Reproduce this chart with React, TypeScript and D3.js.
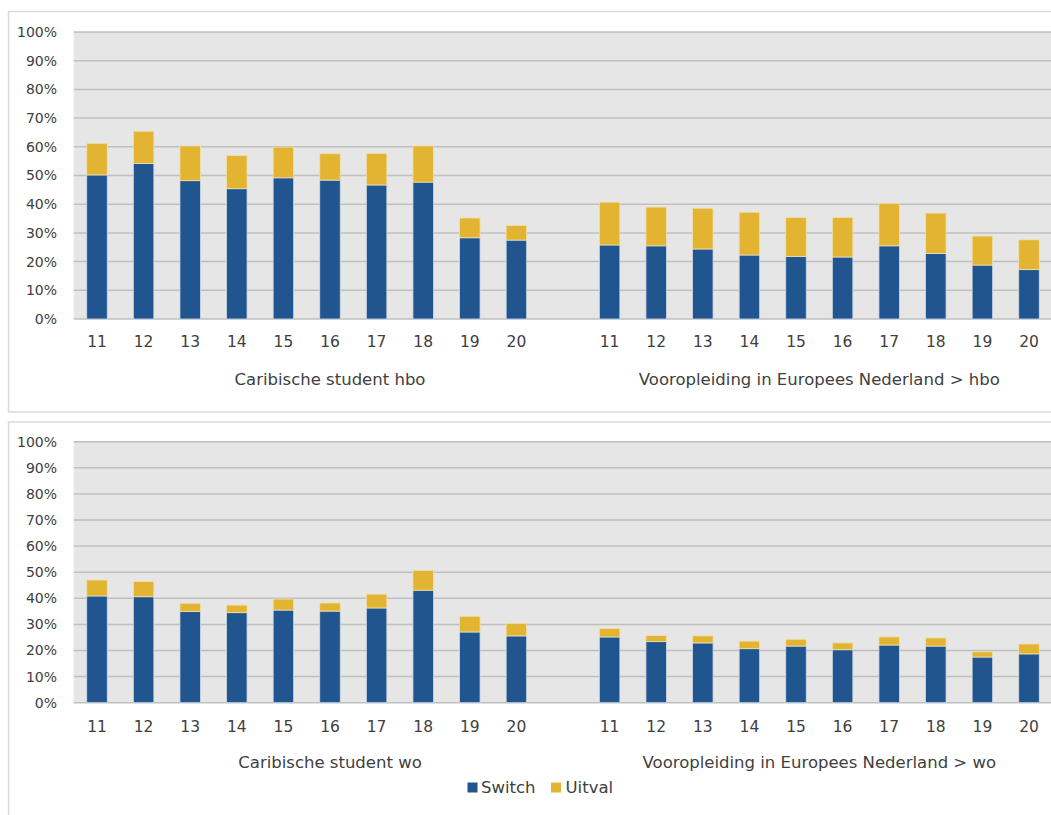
import React from "react";
import * as d3 from "d3";

const years = ["11", "12", "13", "14", "15", "16", "17", "18", "19", "20"];
const groupTop = ["Caribische student hbo", "Vooropleiding in Europees Nederland > hbo"];
const groupBottom = ["Caribische student wo", "Vooropleiding in Europees Nederland > wo"];
const yTicks = [0, 10, 20, 30, 40, 50, 60, 70, 80, 90, 100];

// values in %, Switch and Uitval
const hboCaribSwitch = [50.2, 54.2, 48.2, 45.4, 49.2, 48.4, 46.7, 47.7, 28.3, 27.5];
const hboCaribUitval = [11.0, 11.2, 12.1, 11.6, 10.7, 9.2, 11.0, 12.6, 6.9, 5.1];
const hboNLSwitch = [25.8, 25.5, 24.4, 22.3, 21.8, 21.6, 25.5, 22.8, 18.8, 17.2];
const hboNLUitval = [14.9, 13.5, 14.2, 14.9, 13.6, 13.8, 14.8, 14.1, 10.1, 10.4];
const woCaribSwitch = [40.9, 40.6, 34.9, 34.5, 35.5, 35.1, 36.3, 43.1, 27.1, 25.6];
const woCaribUitval = [6.1, 5.8, 3.2, 2.9, 4.2, 3.1, 5.3, 7.6, 6.0, 4.8];
const woNLSwitch = [25.2, 23.4, 22.9, 20.7, 21.7, 20.3, 22.1, 21.7, 17.5, 18.7];
const woNLUitval = [3.2, 2.3, 2.7, 2.9, 2.6, 2.6, 3.1, 3.1, 2.0, 3.8];

const BLUE = "#21558f";
const YELLOW = "#e3b431";
const TEXT = "#404040";
const FONT = "'DejaVu Sans', Verdana, sans-serif";

const keys = [...years.map((y) => "a" + y), "gap", ...years.map((y) => "b" + y)];

type PanelProps = {
  y0: number;
  y100: number;
  boxTop: number;
  boxBottom: number;
  tickY: number;
  groupY: number;
  groups: string[];
  s1: number[];
  u1: number[];
  s2: number[];
  u2: number[];
};

function Panel(p: PanelProps) {
  const x = d3
    .scaleBand<string>()
    .domain(keys)
    .range([73.7, 1052.3])
    .paddingInner(0.56)
    .paddingOuter(0.28);
  const y = d3.scaleLinear().domain([0, 100]).range([p.y0, p.y100]);
  const bw = x.bandwidth();
  const step = x.step();
  const rows: { k: string; label: string; s: number; u: number }[] = [];
  years.forEach((yr, i) => rows.push({ k: "a" + yr, label: yr, s: p.s1[i], u: p.u1[i] }));
  years.forEach((yr, i) => rows.push({ k: "b" + yr, label: yr, s: p.s2[i], u: p.u2[i] }));
  const g1c = ((x("a11") as number) - (step - bw) / 2 + (x("gap") as number) + bw + (step - bw) / 2) / 2;
  const g2c = ((x("b11") as number) - (step - bw) / 2 + (x("b20") as number) + bw + (step - bw) / 2) / 2;
  return (
    <g>
      <rect x={8.5} y={p.boxTop + 0.5} width={1100} height={p.boxBottom - p.boxTop} fill="#fff" stroke="#d9d9d9" strokeWidth={1.5} />
      <rect x={73.7} y={p.y100} width={1052.3 - 73.7} height={p.y0 - p.y100} fill="#e6e6e6" />
      {yTicks.map((t) => (
        <g key={t}>
          <line x1={73.7} x2={1052.3} y1={y(t)} y2={y(t)} stroke="#bfbfbf" strokeWidth={1.5} />
          <text x={57} y={y(t)} dy="0.35em" textAnchor="end" fontSize={14} fill={TEXT} fontFamily={FONT}>
            {t + "%"}
          </text>
        </g>
      ))}
      {rows.map((r) => (
        <g key={r.k}>
          <rect x={x(r.k)} y={y(r.s)} width={bw} height={y(0) - y(r.s)} fill={BLUE} stroke="#d0dae6" strokeWidth={0.8} />
          <rect x={x(r.k)} y={y(r.s + r.u)} width={bw} height={y(r.s) - y(r.s + r.u)} fill={YELLOW} stroke="#efe0b0" strokeWidth={0.8} />
          <text x={(x(r.k) as number) + bw / 2} y={p.tickY} dy="0.35em" textAnchor="middle" fontSize={15.5} fill={TEXT} fontFamily={FONT}>
            {r.label}
          </text>
        </g>
      ))}
      <text x={g1c} y={p.groupY} dy="0.35em" textAnchor="middle" fontSize={16.5} fill={TEXT} fontFamily={FONT}>
        {p.groups[0]}
      </text>
      <text x={g2c} y={p.groupY} dy="0.35em" textAnchor="middle" fontSize={16.5} fill={TEXT} fontFamily={FONT}>
        {p.groups[1]}
      </text>
    </g>
  );
}

export default function App() {
  return (
    <svg width={1051} height={815} style={{ position: "absolute", left: 0, top: 0, background: "#fff" }}>
      <Panel y0={319} y100={32} boxTop={11} boxBottom={411.5} tickY={342} groupY={379} groups={groupTop}
        s1={hboCaribSwitch} u1={hboCaribUitval} s2={hboNLSwitch} u2={hboNLUitval} />
      <Panel y0={702.7} y100={441.7} boxTop={421.5} boxBottom={900} tickY={727} groupY={762} groups={groupBottom}
        s1={woCaribSwitch} u1={woCaribUitval} s2={woNLSwitch} u2={woNLUitval} />
      <rect x={467.5} y={782.5} width={10} height={10} fill={BLUE} />
      <text x={481} y={787.5} dy="0.35em" fontSize={16.5} fill={TEXT} fontFamily={FONT}>Switch</text>
      <rect x={551} y={782.5} width={10} height={10} fill={YELLOW} />
      <text x={565.5} y={787.5} dy="0.35em" fontSize={16.5} fill={TEXT} fontFamily={FONT}>Uitval</text>
    </svg>
  );
}
